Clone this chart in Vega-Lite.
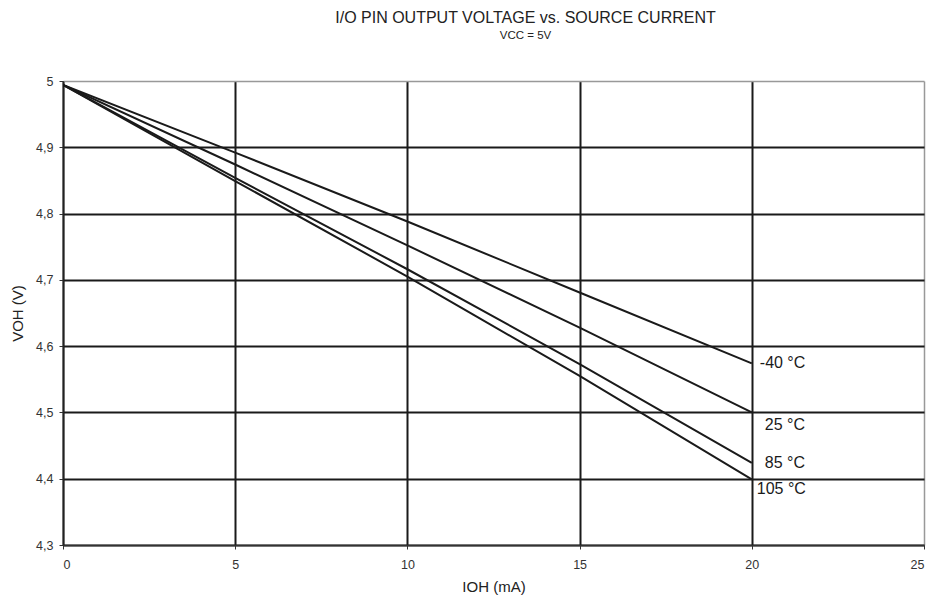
{
  "$schema": "https://vega.github.io/schema/vega-lite/v6.json",
  "width": 861,
  "height": 464,
  "autosize": {"type": "none"},
  "padding": {"left": 63, "top": 81, "right": 9, "bottom": 55},
  "background": "white",
  "config": {"view": {"stroke": null}, "font": "Liberation Sans"},
  "title": {
    "text": "I/O PIN OUTPUT VOLTAGE vs. SOURCE CURRENT",
    "subtitle": "VCC = 5V",
    "font": "Liberation Sans",
    "subtitleFont": "Liberation Sans",
    "fontSize": 16,
    "subtitleFontSize": 11.5,
    "fontWeight": "normal",
    "color": "#222222",
    "subtitleColor": "#222222",
    "anchor": "middle",
    "dx": 32,
    "offset": 34,
    "subtitlePadding": 4
  },
  "data": {
    "values": [
      {"T": "-40 °C", "i": 0, "v": 4.994},
      {"T": "-40 °C", "i": 5, "v": 4.892},
      {"T": "-40 °C", "i": 10, "v": 4.788},
      {"T": "-40 °C", "i": 15, "v": 4.681},
      {"T": "-40 °C", "i": 20, "v": 4.574},
      {"T": "25 °C", "i": 0, "v": 4.994},
      {"T": "25 °C", "i": 5, "v": 4.874},
      {"T": "25 °C", "i": 10, "v": 4.752},
      {"T": "25 °C", "i": 15, "v": 4.628},
      {"T": "25 °C", "i": 20, "v": 4.5},
      {"T": "85 °C", "i": 0, "v": 4.994},
      {"T": "85 °C", "i": 5, "v": 4.854},
      {"T": "85 °C", "i": 10, "v": 4.716},
      {"T": "85 °C", "i": 15, "v": 4.573},
      {"T": "85 °C", "i": 20, "v": 4.424},
      {"T": "105 °C", "i": 0, "v": 4.994},
      {"T": "105 °C", "i": 5, "v": 4.849},
      {"T": "105 °C", "i": 10, "v": 4.705},
      {"T": "105 °C", "i": 12, "v": 4.645},
      {"T": "105 °C", "i": 15, "v": 4.555},
      {"T": "105 °C", "i": 20, "v": 4.399}
    ]
  },
  "encoding": {
    "x": {
      "field": "i",
      "type": "quantitative",
      "scale": {"domain": [0, 25], "nice": false, "zero": false},
      "axis": {
        "values": [0, 5, 10, 15, 20, 25],
        "title": "IOH (mA)",
        "titleFontSize": 15,
        "titleFontWeight": "normal",
        "titleColor": "#222222",
        "titlePadding": 9,
        "labelFontSize": 12.5,
        "labelColor": "#333333",
        "labelPadding": 9,
        "tickSize": 4,
        "tickColor": "#333333",
        "domainColor": "#333333",
        "domainWidth": 1.5,
        "grid": true,
        "gridColor": {"condition": {"test": "datum.value >= 24.9", "value": "#999999"}, "value": "#1a1a1a"},
        "gridWidth": {"condition": {"test": "datum.value >= 24.9", "value": 1.5}, "value": 2},
        "gridOpacity": 1
      }
    },
    "y": {
      "field": "v",
      "type": "quantitative",
      "scale": {"domain": [4.3, 5], "nice": false, "zero": false},
      "axis": {
        "values": [4.3, 4.4, 4.5, 4.6, 4.7, 4.8, 4.9, 5],
        "labelExpr": "replace(format(datum.value, '.1~f'), '.', ',')",
        "title": "VOH (V)",
        "titleFontSize": 15,
        "titleFontWeight": "normal",
        "titleColor": "#222222",
        "titlePadding": 10,
        "labelFontSize": 12.5,
        "labelColor": "#333333",
        "labelPadding": 6,
        "tickSize": 4,
        "tickColor": "#333333",
        "domainColor": "#222222",
        "domainWidth": 1.5,
        "grid": true,
        "gridColor": {"condition": {"test": "datum.value >= 4.99", "value": "#999999"}, "value": "#1a1a1a"},
        "gridWidth": {"condition": {"test": "datum.value >= 4.99", "value": 1.5}, "value": 2},
        "gridOpacity": 1
      }
    }
  },
  "layer": [
    {
      "mark": {"type": "line", "color": "#1a1a1a", "strokeWidth": 2, "clip": true},
      "encoding": {"detail": {"field": "T"}}
    },
    {
      "transform": [{"filter": "datum.i == 20 && datum.T == '-40 °C'"}],
      "mark": {"type": "text", "align": "left", "baseline": "middle", "dx": 8, "dy": 0, "fontSize": 16, "color": "#1a1a1a", "font": "Liberation Sans"},
      "encoding": {"text": {"field": "T"}}
    },
    {
      "transform": [{"filter": "datum.i == 20 && datum.T == '25 °C'"}],
      "mark": {"type": "text", "align": "left", "baseline": "middle", "dx": 13, "dy": 13, "fontSize": 16, "color": "#1a1a1a", "font": "Liberation Sans"},
      "encoding": {"text": {"field": "T"}}
    },
    {
      "transform": [{"filter": "datum.i == 20 && datum.T == '85 °C'"}],
      "mark": {"type": "text", "align": "left", "baseline": "middle", "dx": 13, "dy": 0, "fontSize": 16, "color": "#1a1a1a", "font": "Liberation Sans"},
      "encoding": {"text": {"field": "T"}}
    },
    {
      "transform": [{"filter": "datum.i == 20 && datum.T == '105 °C'"}],
      "mark": {"type": "text", "align": "left", "baseline": "middle", "dx": 5, "dy": 10, "fontSize": 16, "color": "#1a1a1a", "font": "Liberation Sans"},
      "encoding": {"text": {"field": "T"}}
    }
  ]
}
